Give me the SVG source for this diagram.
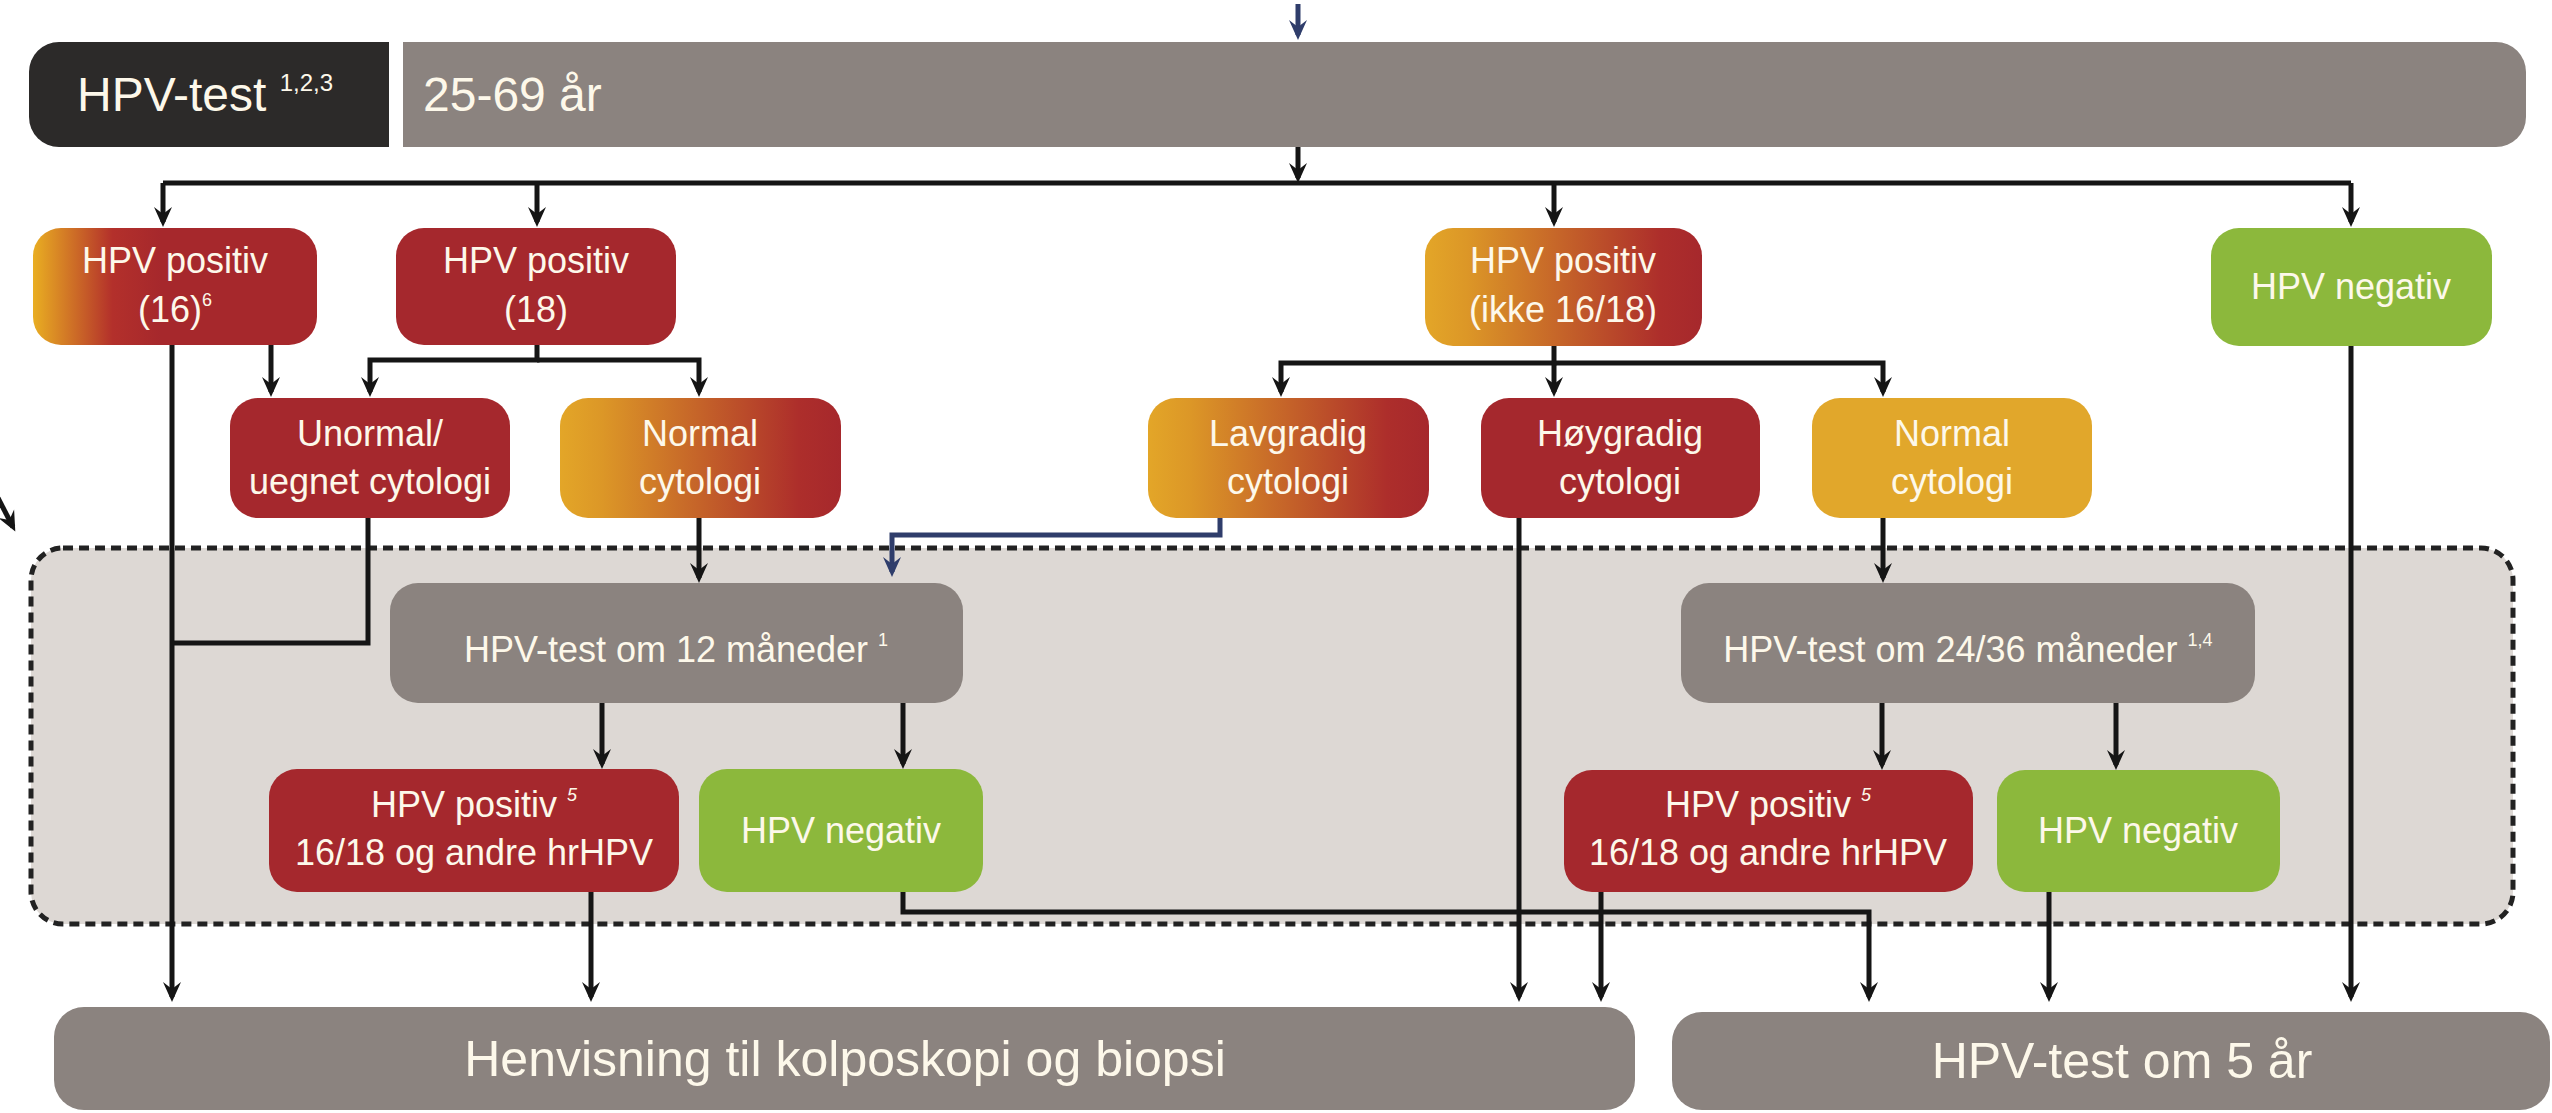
<svg xmlns="http://www.w3.org/2000/svg" width="2552" height="1113" viewBox="0 0 2552 1113">
<style>
.ln{fill:none;stroke:#151515;stroke-width:5}
.nv{fill:none;stroke:#2f3d6b;stroke-width:5}
.t{font-family:"Liberation Sans",Arial,sans-serif;fill:#fdf8ea;text-anchor:middle;font-size:36px}
.big{font-size:50px}
.red{fill:#a5282d}
.gray{fill:#8b837f}
.green{fill:#8cb83c}
.orange{fill:#e1a72b}
</style>
<defs>
<marker id="ah" viewBox="-16 -10 22 20" refX="0" refY="0" markerWidth="22" markerHeight="20" markerUnits="userSpaceOnUse" orient="auto">
<path d="M-15,-9 L5,0 L-15,9 L-8,0 Z" fill="#151515"/>
</marker>
<marker id="ahn" viewBox="-16 -10 22 20" refX="0" refY="0" markerWidth="22" markerHeight="20" markerUnits="userSpaceOnUse" orient="auto">
<path d="M-15,-9 L5,0 L-15,9 L-8,0 Z" fill="#2f3d6b"/>
</marker>
<linearGradient id="gA" x1="0" y1="0" x2="1" y2="0">
<stop offset="0" stop-color="#e9ae22"/>
<stop offset="0.28" stop-color="#b3302b"/>
<stop offset="0.45" stop-color="#a6282c"/>
<stop offset="1" stop-color="#a6282c"/>
</linearGradient>
<linearGradient id="gB" x1="0" y1="0" x2="1" y2="0">
<stop offset="0" stop-color="#e3a628"/>
<stop offset="0.15" stop-color="#dc9727"/>
<stop offset="0.85" stop-color="#ad2e2b"/>
<stop offset="1" stop-color="#a6282c"/>
</linearGradient>
</defs>
<rect width="2552" height="1113" fill="#ffffff"/>

<g id="region">
<rect x="31" y="548" width="2482" height="376" rx="32" fill="#ddd8d4" stroke="#222" stroke-width="5" stroke-dasharray="10 6"/>
</g>

<g id="header">
<path d="M59,42 H389 V147 H59 A30,30 0 0 1 29,117 V72 A30,30 0 0 1 59,42 Z" fill="#2c2a29"/>
<path d="M403,42 H2496 A30,30 0 0 1 2526,72 V117 A30,30 0 0 1 2496,147 H403 Z" class="gray"/>
<text class="t" x="77" y="111" style="text-anchor:start;font-size:48px">HPV-test <tspan font-size="24" dy="-20">1,2,3</tspan></text>
<text class="t" x="423" y="111" style="text-anchor:start;font-size:48px">25-69 år</text>
</g>

<g id="connectors">
<path class="nv" d="M1298,4 V35" marker-end="url(#ahn)"/>
<path class="ln" d="M1298,147 V178" marker-end="url(#ah)"/>
<path class="ln" d="M163,183 H2351"/>
<path class="ln" d="M163,183 V222" marker-end="url(#ah)"/>
<path class="ln" d="M537,183 V222" marker-end="url(#ah)"/>
<path class="ln" d="M1554,183 V222" marker-end="url(#ah)"/>
<path class="ln" d="M2351,183 V222" marker-end="url(#ah)"/>
<path class="ln" d="M172,345 V997" marker-end="url(#ah)"/>
<path class="ln" d="M271,345 V392" marker-end="url(#ah)"/>
<path class="ln" d="M537,345 V360 H370 V392" marker-end="url(#ah)"/>
<path class="ln" d="M537,360 H699 V392" marker-end="url(#ah)"/>
<path class="ln" d="M1554,346 V363 H1281 V392" marker-end="url(#ah)"/>
<path class="ln" d="M1554,363 V392" marker-end="url(#ah)"/>
<path class="ln" d="M1554,363 H1883 V392" marker-end="url(#ah)"/>
<path class="ln" d="M368,518 V643 H172"/>
<path class="ln" d="M699,518 V578" marker-end="url(#ah)"/>
<path class="nv" d="M1220,518 V535 H892 V572" marker-end="url(#ahn)"/>
<path class="ln" d="M1519,518 V997" marker-end="url(#ah)"/>
<path class="ln" d="M1883,518 V578" marker-end="url(#ah)"/>
<path class="ln" d="M602,703 V764" marker-end="url(#ah)"/>
<path class="ln" d="M903,703 V764" marker-end="url(#ah)"/>
<path class="ln" d="M1882,703 V765" marker-end="url(#ah)"/>
<path class="ln" d="M2116,703 V765" marker-end="url(#ah)"/>
<path class="ln" d="M591,892 V997" marker-end="url(#ah)"/>
<path class="ln" d="M903,892 V912 H1869 V997" marker-end="url(#ah)"/>
<path class="ln" d="M1601,892 V997" marker-end="url(#ah)"/>
<path class="ln" d="M2049,892 V997" marker-end="url(#ah)"/>
<path class="ln" d="M2351,346 V997" marker-end="url(#ah)"/>
<path class="ln" d="M-2,498 L13,527" marker-end="url(#ah)"/>
</g>

<g id="n-pos16">
<rect x="33" y="228" width="284" height="117" rx="28" fill="url(#gA)"/>
<text class="t" x="175" y="273">HPV positiv</text>
<text class="t" x="175" y="322">(16)<tspan font-size="18" dy="-16">6</tspan></text>
</g>
<g id="n-pos18">
<rect x="396" y="228" width="280" height="117" rx="28" class="red"/>
<text class="t" x="536" y="273">HPV positiv</text>
<text class="t" x="536" y="322">(18)</text>
</g>
<g id="n-posikke">
<rect x="1425" y="228" width="277" height="118" rx="28" fill="url(#gB)"/>
<text class="t" x="1563" y="273">HPV positiv</text>
<text class="t" x="1563" y="322">(ikke 16/18)</text>
</g>
<g id="n-neg1">
<rect x="2211" y="228" width="281" height="118" rx="28" class="green"/>
<text class="t" x="2351" y="299">HPV negativ</text>
</g>

<g id="n-unormal">
<rect x="230" y="398" width="280" height="120" rx="28" class="red"/>
<text class="t" x="370" y="446">Unormal/</text>
<text class="t" x="370" y="494">uegnet cytologi</text>
</g>
<g id="n-normalL">
<rect x="560" y="398" width="281" height="120" rx="28" fill="url(#gB)"/>
<text class="t" x="700" y="446">Normal</text>
<text class="t" x="700" y="494">cytologi</text>
</g>
<g id="n-lav">
<rect x="1148" y="398" width="281" height="120" rx="28" fill="url(#gB)"/>
<text class="t" x="1288" y="446">Lavgradig</text>
<text class="t" x="1288" y="494">cytologi</text>
</g>
<g id="n-hoy">
<rect x="1481" y="398" width="279" height="120" rx="28" class="red"/>
<text class="t" x="1620" y="446">Høygradig</text>
<text class="t" x="1620" y="494">cytologi</text>
</g>
<g id="n-normalR">
<rect x="1812" y="398" width="280" height="120" rx="28" class="orange"/>
<text class="t" x="1952" y="446">Normal</text>
<text class="t" x="1952" y="494">cytologi</text>
</g>

<g id="n-12mnd">
<rect x="390" y="583" width="573" height="120" rx="28" class="gray"/>
<text class="t" x="676" y="662">HPV-test om 12 måneder <tspan font-size="18" dy="-16">1</tspan></text>
</g>
<g id="n-2436mnd">
<rect x="1681" y="583" width="574" height="120" rx="28" class="gray"/>
<text class="t" x="1968" y="662">HPV-test om 24/36 måneder <tspan font-size="18" dy="-16">1,4</tspan></text>
</g>

<g id="n-pos5L">
<rect x="269" y="769" width="410" height="123" rx="28" class="red"/>
<text class="t" x="474" y="817">HPV positiv <tspan font-size="18" dy="-16" font-style="italic">5</tspan></text>
<text class="t" x="474" y="865">16/18 og andre hrHPV</text>
</g>
<g id="n-negL">
<rect x="699" y="769" width="284" height="123" rx="28" class="green"/>
<text class="t" x="841" y="843">HPV negativ</text>
</g>
<g id="n-pos5R">
<rect x="1564" y="770" width="409" height="122" rx="28" class="red"/>
<text class="t" x="1768" y="817">HPV positiv <tspan font-size="18" dy="-16" font-style="italic">5</tspan></text>
<text class="t" x="1768" y="865">16/18 og andre hrHPV</text>
</g>
<g id="n-negR">
<rect x="1997" y="770" width="283" height="122" rx="28" class="green"/>
<text class="t" x="2138" y="843">HPV negativ</text>
</g>

<g id="n-henvisning">
<rect x="54" y="1007" width="1581" height="103" rx="30" class="gray"/>
<text class="t big" x="845" y="1076">Henvisning til kolposkopi og biopsi</text>
</g>
<g id="n-5aar">
<rect x="1672" y="1012" width="878" height="98" rx="30" class="gray"/>
<text class="t big" x="2122" y="1078">HPV-test om 5 år</text>
</g>
</svg>
